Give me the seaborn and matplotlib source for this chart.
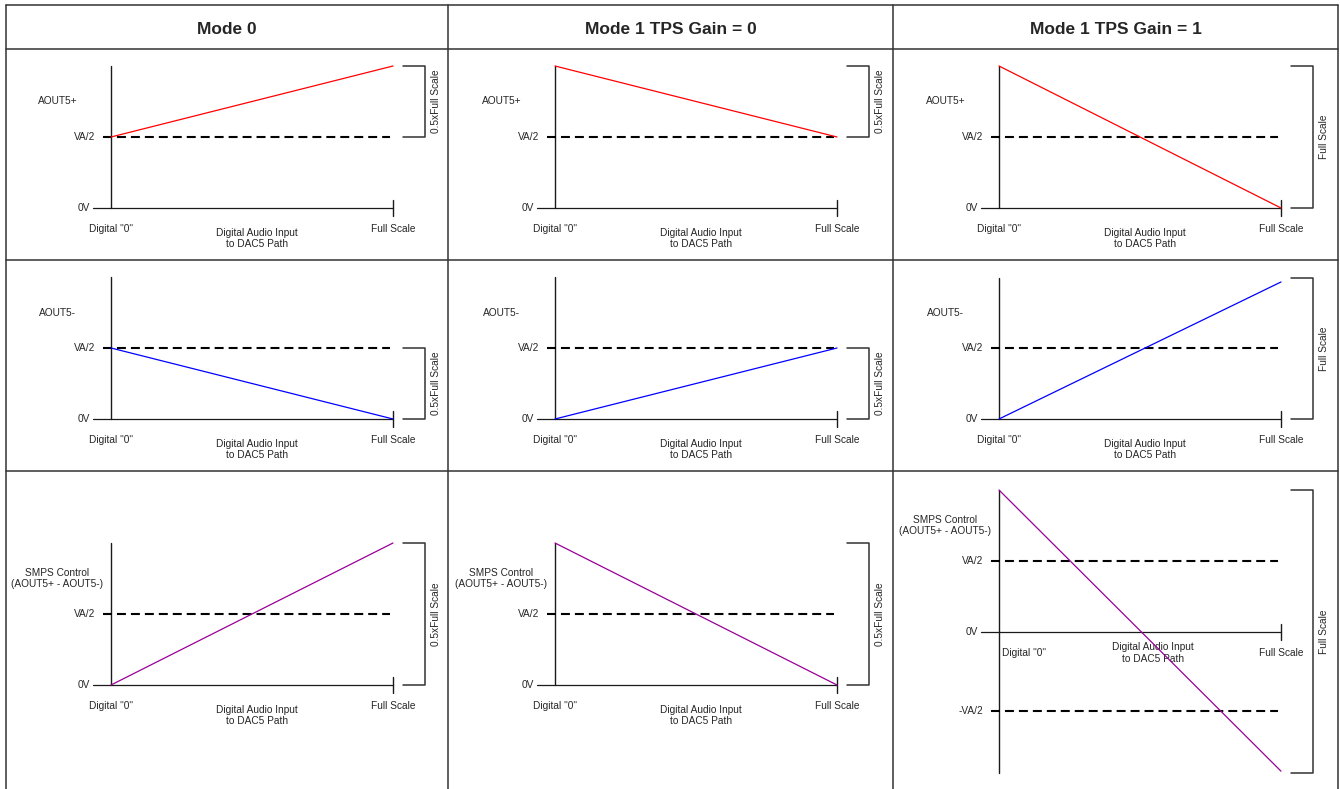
import pandas as pd
import seaborn as sns
import matplotlib.pyplot as plt
from matplotlib.lines import Line2D

# column headers and row names
headers = ["Mode 0", "Mode 1 TPS Gain = 0", "Mode 1 TPS Gain = 1"]
row_labels = ["AOUT5+", "AOUT5-", "SMPS Control\n(AOUT5+ - AOUT5-)"]
row_colors = ["#ff0000", "#0000ff", "#990099"]

# output level (units of VA/2) at Digital "0" and at Full Scale
level_at_zero = [[1.0, 2.0, 2.0],
                 [1.0, 0.0, 0.0],
                 [0.0, 2.0, 2.0]]
level_at_full = [[2.0, 1.0, 0.0],
                 [0.0, 1.0, 1.93],
                 [2.0, 0.0, -1.96]]

# dashed reference levels and their names
ref_levels = [[[1.0], [1.0], [1.0]],
              [[1.0], [1.0], [1.0]],
              [[1.0], [1.0], [1.0, -1.11]]]
ref_names = [[["VA/2"], ["VA/2"], ["VA/2"]],
             [["VA/2"], ["VA/2"], ["VA/2"]],
             [["VA/2"], ["VA/2"], ["VA/2", "-VA/2"]]]

# vertical extent of the y axis line
axis_span = [[(0, 2.0), (0, 2.0), (0, 2.0)],
             [(0, 2.0), (0, 2.0), (0, 1.99)],
             [(0, 2.0), (0, 2.0), (-1.99, 2.0)]]

# bracket on the right of each panel
bracket_span = [[(1, 2.0), (1, 2.0), (0, 2.0)],
                [(0, 1), (0, 1), (0, 1.99)],
                [(0, 2.0), (0, 2.0), (-1.99, 2.0)]]
bracket_text = [["0.5xFull Scale", "0.5xFull Scale", "Full Scale"],
                ["0.5xFull Scale", "0.5xFull Scale", "Full Scale"],
                ["0.5xFull Scale", "0.5xFull Scale", "Full Scale"]]

x_left = 'Digital "0"'
x_mid = "Digital Audio Input\nto DAC5 Path"
x_right = "Full Scale"

sns.set_style("white")
plt.rcParams['font.family'] = ['Liberation Sans', 'DejaVu Sans']

W, H = 1340, 789
fig = plt.figure(figsize=(W / 100, H / 100), dpi=100)

# table layout in pixels
col_edges = [6, 448, 893, 1338]
row_edges = [49, 260, 471, 789]
x_origin = [111, 555, 999]
y_origin = [[208, 208, 208], [419, 419, 419], [685, 685, 632]]
ux, uy = 282, 71
small = 7.3
ink = "#1a1a1a"

for r in range(3):
    for c in range(3):
        L, R = col_edges[c], col_edges[c + 1]
        T, B = row_edges[r], row_edges[r + 1]
        x0, y0 = x_origin[c], y_origin[r][c]
        ax = fig.add_axes([L / W, 1 - B / H, (R - L) / W, (B - T) / H])

        df = pd.DataFrame({"x": [0, 1], "y": [level_at_zero[r][c], level_at_full[r][c]]})
        sns.lineplot(data=df, x="x", y="y", ax=ax, color=row_colors[r], lw=0.9, zorder=5)

        # axes
        lo, hi = axis_span[r][c]
        ax.plot([0, 0], [lo, hi], color=ink, lw=1.0)
        ax.plot([-0.065, 1], [0, 0], color=ink, lw=0.9)
        ax.plot([1, 1], [-0.115, 0.115], color=ink, lw=1.0)
        ax.text(-0.075, 0, "0V", ha="right", va="center", fontsize=small)

        for lev, name in zip(ref_levels[r][c], ref_names[r][c]):
            ax.plot([-0.03, 0.99], [lev, lev], color="black", lw=1.5,
                    linestyle=(0, (4.3, 2.4)))
            ax.text(-0.057, lev, name, ha="right", va="center", fontsize=small)

        # bracket
        b0, b1 = bracket_span[r][c]
        ax.plot([1.035, 1.113, 1.113, 1.035], [b1, b1, b0, b0], color="#333333", lw=1.1)
        ax.text(1.152, (b0 + b1) / 2, bracket_text[r][c], rotation=90,
                ha="center", va="center", fontsize=small)

        # labels
        ax.text(-0.19, 1.5, row_labels[r], ha="center", va="center",
                fontsize=small, multialignment="center")
        if lo < 0:
            ax.text(0.09, -0.3, x_left, ha="center", va="center", fontsize=small)
            ax.text(0.545, -0.3, x_mid, ha="center", va="center", fontsize=small)
        else:
            ax.text(0, -0.3, x_left, ha="center", va="center", fontsize=small)
            ax.text(0.518, -0.43, x_mid, ha="center", va="center", fontsize=small)
        ax.text(1, -0.3, x_right, ha="center", va="center", fontsize=small)

        ax.set_xlim((L - x0) / ux, (R - x0) / ux)
        ax.set_ylim((y0 - B) / uy, (y0 - T) / uy)
        ax.axis("off")

# table grid
grid = dict(color="#333333", lw=1.1)
for y in [5, 49, 260, 471]:
    fig.add_artist(Line2D([6 / W, 1338 / W], [1 - y / H, 1 - y / H], **grid))
for x in col_edges:
    fig.add_artist(Line2D([x / W, x / W], [1 - 5 / H, 0], **grid))

for c, h in enumerate(headers):
    cx = (col_edges[c] + col_edges[c + 1]) / 2
    fig.text(cx / W, 1 - 29 / H, h, ha="center", va="center",
             fontsize=12.5, fontweight="bold")

fig.savefig("out.png", dpi=100)
